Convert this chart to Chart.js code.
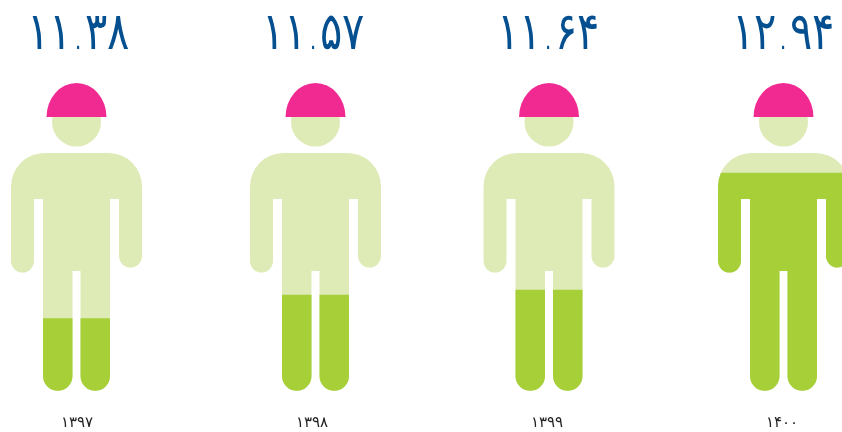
<!DOCTYPE html>
<html>
<head>
<meta charset="utf-8">
<style>
  html, body { margin: 0; padding: 0; background: #fff; }
  canvas { display: block; }
</style>
<script src="https://cdn.jsdelivr.net/npm/chart.js@4/dist/chart.umd.min.js"></script>
</head>
<body>
<canvas id="workers" width="842" height="432"></canvas>
<script>
const years = ['۱۳۹۷', '۱۳۹۸', '۱۳۹۹', '۱۴۰۰'];
const valueLabels = ['۱۱.۳۸', '۱۱.۵۷', '۱۱.۶۴', '۱۲.۹۴'];
// how far up the body the dark green reaches, percent
const fillShare = [30.4, 40.3, 42.4, 91.6];

const figureNudge = [-0.5, 3.5, 2, 1.5];
const lightGreen = '#deebb7';
const darkGreen = '#a6cf38';
const helmetPink = '#f12a92';
const valueBlue = '#044f8f';

// body outline, px around the figure's centre line, y from the chart scale
function bodyPath(ctx, c, top, bottom) {
  const y = (d) => top + d; // d = px below the shoulders
  ctx.moveTo(c - 32, top);
  ctx.lineTo(c + 32, top);
  ctx.arcTo(c + 65.5, top, c + 65.5, y(33), 33.5);
  ctx.lineTo(c + 65.5, y(103));
  ctx.arc(c + 54, y(103), 11.5, 0, Math.PI);
  ctx.lineTo(c + 42.5, y(46));
  ctx.lineTo(c + 33.5, y(46));
  ctx.lineTo(c + 33.5, bottom - 15);
  ctx.arc(c + 18.75, bottom - 15, 14.75, 0, Math.PI);
  ctx.lineTo(c + 4, y(118));
  ctx.lineTo(c - 4, y(118));
  ctx.lineTo(c - 4, bottom - 15);
  ctx.arc(c - 18.75, bottom - 15, 14.75, 0, Math.PI);
  ctx.lineTo(c - 33.5, y(46));
  ctx.lineTo(c - 42.5, y(46));
  ctx.lineTo(c - 42.5, y(108));
  ctx.arc(c - 54, y(108), 11.5, 0, Math.PI);
  ctx.lineTo(c - 65.5, y(33));
  ctx.arcTo(c - 65.5, top, c - 32, top, 33.5);
  ctx.closePath();
}

const figurePlugin = {
  id: 'figures',
  beforeDatasetsDraw(chart) {
    const { ctx, scales: { x, y } } = chart;
    const top = y.getPixelForValue(100);
    const bottom = y.getPixelForValue(0);
    years.forEach((year, i) => {
      const c = x.getPixelForValue(i) + figureNudge[i];
      ctx.save();
      ctx.fillStyle = lightGreen;
      ctx.beginPath();
      bodyPath(ctx, c, top, bottom);
      ctx.fill();
      // head
      ctx.beginPath();
      ctx.arc(c, top - 31, 24.5, 0, Math.PI * 2);
      ctx.fill();
      // helmet
      ctx.fillStyle = helmetPink;
      ctx.beginPath();
      ctx.ellipse(c, top - 36, 30, 34, 0, Math.PI, 0);
      ctx.closePath();
      ctx.fill();
      ctx.restore();
      // value above the figure, squeezed to the narrow look of the original digits
      ctx.save();
      ctx.fillStyle = valueBlue;
      ctx.font = '200 52px "DejaVu Sans"';
      ctx.letterSpacing = '-3px';
      ctx.textAlign = 'center';
      ctx.textBaseline = 'alphabetic';
      ctx.translate(x.getPixelForValue(i) + 1, 49);
      ctx.scale(0.8, 1);
      ctx.fillText(valueLabels[i], 0, 0);
      ctx.restore();
    });
  },
  // the bars only show inside the body outline
  beforeDatasetDraw(chart) {
    const { ctx, scales: { x, y } } = chart;
    ctx.save();
    ctx.beginPath();
    years.forEach((year, i) => {
      bodyPath(ctx, x.getPixelForValue(i) + figureNudge[i], y.getPixelForValue(100), y.getPixelForValue(0));
    });
    ctx.clip();
  },
  afterDatasetDraw(chart) {
    chart.ctx.restore();
  }
};

new Chart(document.getElementById('workers').getContext('2d'), {
  type: 'bar',
  data: {
    labels: years,
    datasets: [{
      data: fillShare,
      backgroundColor: darkGreen,
      barThickness: 160,
      clip: false
    }]
  },
  options: {
    responsive: false,
    animation: false,
    layout: { padding: { top: 153, left: 77, right: 60, bottom: 0 } },
    plugins: {
      legend: { display: false },
      tooltip: { enabled: false }
    },
    scales: {
      x: {
        offset: false,
        grid: { display: false },
        border: { display: false },
        afterFit(scale) { scale.height = 41; },
        ticks: {
          color: '#222',
          font: { family: '"DejaVu Sans"', size: 15 },
          padding: 15,
          maxRotation: 0,
          autoSkip: false
        }
      },
      y: { display: false, min: 0, max: 100 }
    }
  },
  plugins: [figurePlugin]
});
</script>
</body>
</html>
